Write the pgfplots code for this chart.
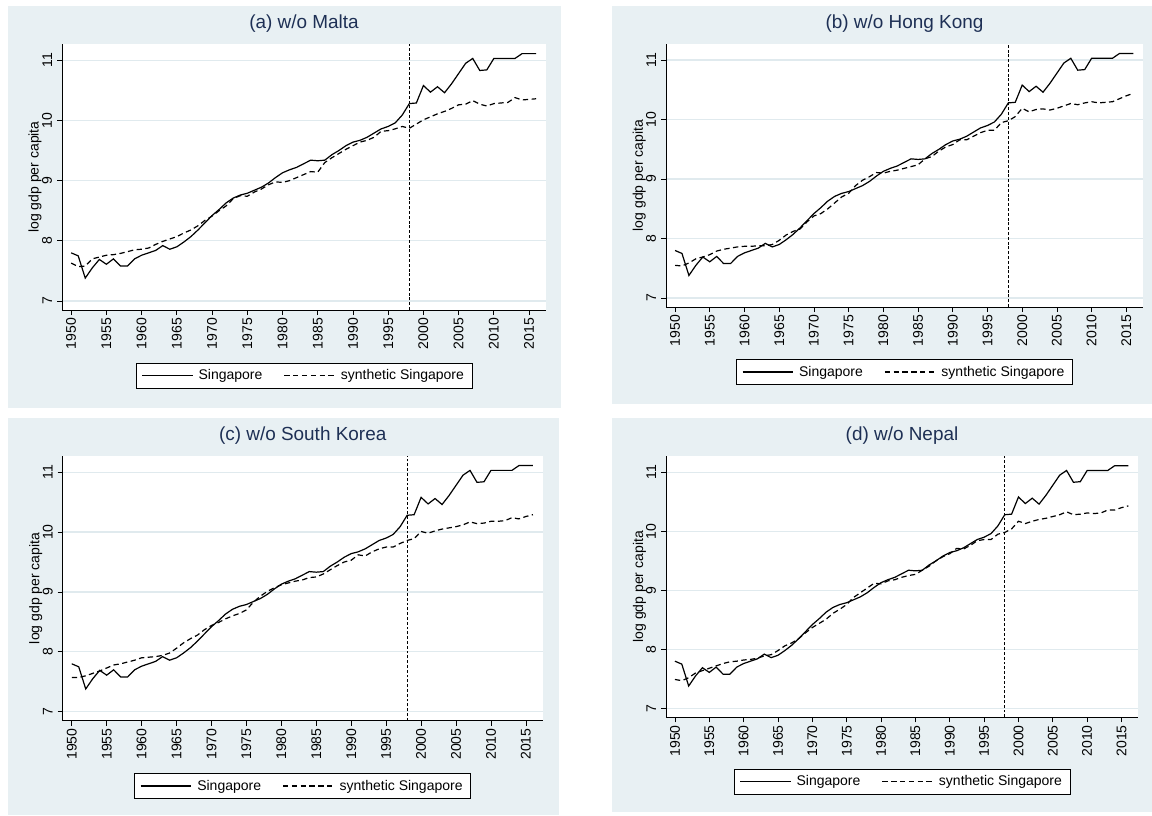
\documentclass[border=0pt]{standalone}
\usepackage{pgfplots}
\pgfplotsset{compat=1.18}
\usepackage{pgfplotstable}
\usepackage{fontspec}
\setmainfont{Liberation Sans}
\definecolor{bgc}{RGB}{232,240,243}
\definecolor{gridc}{RGB}{224,234,238}
\definecolor{titlec}{RGB}{30,48,85}

\pgfplotstableread{
year sg a b c d
1950 7.80 7.63 7.55 7.57 7.49
1951 7.75 7.57 7.54 7.57 7.47
1952 7.38 7.58 7.59 7.60 7.52
1953 7.55 7.70 7.66 7.64 7.60
1954 7.69 7.73 7.69 7.68 7.64
1955 7.61 7.76 7.73 7.73 7.68
1956 7.70 7.77 7.79 7.78 7.72
1957 7.58 7.79 7.82 7.80 7.76
1958 7.58 7.82 7.84 7.83 7.79
1959 7.70 7.85 7.86 7.86 7.80
1960 7.76 7.86 7.87 7.90 7.82
1961 7.80 7.88 7.87 7.91 7.83
1962 7.84 7.94 7.88 7.92 7.85
1963 7.92 7.99 7.88 7.94 7.89
1964 7.86 8.03 7.90 7.98 7.91
1965 7.90 8.07 7.97 8.06 7.98
1966 7.98 8.13 8.06 8.15 8.06
1967 8.07 8.18 8.12 8.22 8.11
1968 8.18 8.25 8.16 8.28 8.18
1969 8.30 8.34 8.28 8.37 8.28
1970 8.42 8.41 8.38 8.44 8.37
1971 8.52 8.50 8.42 8.49 8.44
1972 8.63 8.58 8.50 8.55 8.51
1973 8.71 8.70 8.60 8.60 8.61
1974 8.76 8.75 8.70 8.64 8.68
1975 8.79 8.74 8.76 8.70 8.76
1976 8.84 8.81 8.89 8.83 8.88
1977 8.89 8.86 8.98 8.93 8.96
1978 8.96 8.93 9.04 9.01 9.04
1979 9.05 8.98 9.11 9.07 9.12
1980 9.13 8.97 9.10 9.12 9.11
1981 9.18 9.00 9.13 9.15 9.16
1982 9.22 9.05 9.15 9.18 9.18
1983 9.28 9.10 9.18 9.20 9.22
1984 9.34 9.15 9.21 9.24 9.25
1985 9.33 9.14 9.24 9.25 9.27
1986 9.34 9.30 9.34 9.30 9.34
1987 9.43 9.38 9.38 9.37 9.41
1988 9.50 9.45 9.47 9.44 9.50
1989 9.58 9.52 9.54 9.50 9.57
1990 9.64 9.58 9.58 9.53 9.62
1991 9.67 9.64 9.66 9.62 9.71
1992 9.72 9.67 9.66 9.60 9.70
1993 9.79 9.72 9.72 9.67 9.76
1994 9.86 9.82 9.78 9.72 9.84
1995 9.90 9.83 9.82 9.75 9.86
1996 9.96 9.86 9.82 9.75 9.86
1997 10.09 9.90 9.95 9.81 9.95
1998 10.28 9.87 9.98 9.86 9.98
1999 10.29 9.94 10.05 9.89 10.04
2000 10.58 10.01 10.19 10.01 10.17
2001 10.47 10.06 10.13 9.98 10.13
2002 10.56 10.11 10.17 10.02 10.17
2003 10.46 10.15 10.18 10.05 10.20
2004 10.61 10.20 10.16 10.07 10.22
2005 10.78 10.26 10.19 10.09 10.25
2006 10.95 10.27 10.23 10.12 10.28
2007 11.03 10.33 10.27 10.17 10.33
2008 10.83 10.27 10.25 10.14 10.28
2009 10.84 10.24 10.28 10.15 10.29
2010 11.03 10.28 10.30 10.18 10.31
2011 11.03 10.29 10.28 10.18 10.30
2012 11.03 10.30 10.29 10.19 10.31
2013 11.03 10.38 10.30 10.24 10.36
2014 11.11 10.34 10.35 10.22 10.36
2015 11.11 10.35 10.40 10.26 10.40
2016 11.11 10.36 10.44 10.29 10.43
}\data

\pgfplotsset{
  panel/.style={
    scale only axis, anchor=north west,
    xmin=1948.7, xmax=2017.4, ymin=6.85, ymax=11.27,
    axis x line*=bottom, axis y line*=left,
    axis line style={black, line width=0.6pt},
    xtick={1950,1955,...,2015}, ytick={7,8,9,10,11},
    tick align=outside, major tick length=3.75pt,
    tick style={black, line width=0.6pt},
    /pgf/number format/assume math mode=true,
    /pgf/number format/1000 sep={},
    ticklabel style={font=\fontsize{10.5}{12}\selectfont},
    xticklabel style={rotate=90, anchor=east, inner sep=2pt},
    yticklabel style={rotate=90, anchor=south, inner sep=3.5pt},
    ymajorgrids, grid style={gridc, line width=1pt},
    axis background/.style={fill=white},
    ylabel={log gdp per capita},
    ylabel style={at={(axis description cs:-0.056,0.5)}, anchor=center, font=\fontsize{10.5}{12}\selectfont},
    title style={at={(0.5,1)}, anchor=base, yshift=5.5pt, text=titlec, font=\fontsize{14.2}{16}\selectfont},
    legend columns=2,
    legend image code/.code={\draw[#1] (0pt,0pt) -- (38pt,0pt);},
    legend style={at={(0.5,-0.247)}, anchor=center, draw=black, line width=0.6pt, fill=white,
      font=\fontsize{10.5}{12}\selectfont, inner xsep=4pt, inner ysep=3pt,
      /tikz/every even column/.append style={column sep=14pt},
      /tikz/every odd column/.append style={column sep=2pt}},
  },
  sgline/.style={black, line width=0.9pt},
  synline/.style={black, line width=0.9pt, dash pattern=on 4pt off 2.6pt},
  vline/.style={black, line width=0.8pt, dash pattern=on 2.2pt off 1.4pt, forget plot},
}

\begin{document}
\begin{tikzpicture}
\fill[white] (0pt,0pt) rectangle (864pt,-611.25pt);
\fill[bgc] (6pt,-4.5pt) rectangle (420.75pt,-306pt);
\fill[bgc] (459pt,-4.5pt) rectangle (864pt,-303pt);
\fill[bgc] (6pt,-313.5pt) rectangle (419pt,-611.25pt);
\fill[bgc] (459pt,-313.5pt) rectangle (864pt,-609pt);

% (a)
\begin{axis}[panel, at={(46.5pt,-33pt)}, width=363pt, height=199.5pt, title={(a) w/o Malta}]
\addplot[vline] coordinates {(1998,6.85) (1998,11.27)};
\addplot[sgline] table[x=year, y=sg] {\data};
\addplot[synline] table[x=year, y=a] {\data};
\legend{Singapore, synthetic Singapore}
\end{axis}

% (b)
\begin{axis}[panel, at={(499.5pt,-33pt)}, width=357.75pt, height=197.25pt, title={(b) w/o Hong Kong}]
\addplot[vline] coordinates {(1998,6.85) (1998,11.27)};
\addplot[sgline] table[x=year, y=sg] {\data};
\addplot[synline] table[x=year, y=b] {\data};
\legend{Singapore, synthetic Singapore}
\end{axis}

% (c)
\begin{axis}[panel, at={(47pt,-342pt)}, width=360pt, height=198.5pt, title={(c) w/o South Korea}]
\addplot[vline] coordinates {(1998,6.85) (1998,11.27)};
\addplot[sgline] table[x=year, y=sg] {\data};
\addplot[synline] table[x=year, y=c] {\data};
\legend{Singapore, synthetic Singapore}
\end{axis}

% (d)
\begin{axis}[panel, at={(499.5pt,-342.2pt)}, width=354pt, height=195.75pt, title={(d) w/o Nepal}]
\addplot[vline] coordinates {(1998,6.85) (1998,11.27)};
\addplot[sgline] table[x=year, y=sg] {\data};
\addplot[synline] table[x=year, y=d] {\data};
\legend{Singapore, synthetic Singapore}
\end{axis}
\end{tikzpicture}
\end{document}
